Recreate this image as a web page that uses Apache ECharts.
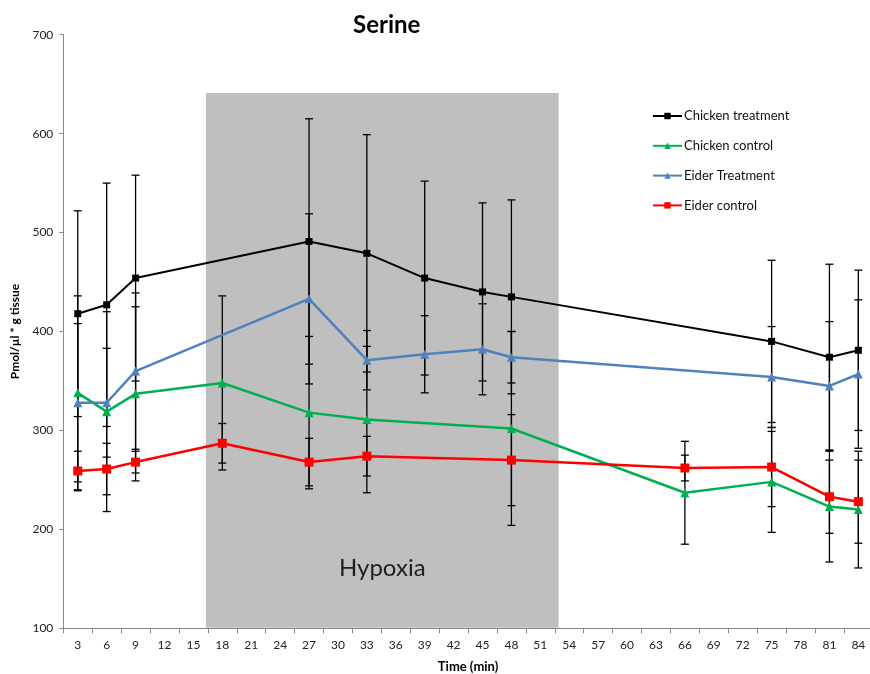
<!DOCTYPE html>
<html>
<head>
<meta charset="utf-8">
<script src="https://cdn.jsdelivr.net/npm/echarts@6/dist/echarts.min.js"></script>
<style>html,body{margin:0;padding:0;background:#fff;}#c{width:870px;height:674px;}</style>
</head>
<body>
<div id="c"></div>
<script>
// Tick labels of the category axis (minutes)
var tickLabels = ['3','6','9','12','15','18','21','24','27','30','33','36','39','42','45','48','51','54','57','60','63','66','69','72','75','78','81','84'];
// Measured time points (minutes)
var times = [3, 6, 9, 18, 27, 33, 39, 45, 48, 66, 75, 81, 84];
// Series means and error (±) values, aligned with times
var chickenTreatment   = [418, 427, 454, null, 491, 479, 454, 440, 435, null, 390, 374, 381];
var chickenTreatmentSD = [104, 123, 104, null, 124, 120,  98,  90,  98, null,  82,  94,  81];
var chickenControl     = [338, 319, 337, 348, 318, 311, null, null, 302, 237, 248, 223, 220];
var chickenControlSD   = [ 98, 101,  88,  88,  77,  74, null, null,  98,  52,  51,  56,  59];
var eiderTreatment     = [328, 328, 360, null, 433, 371, 377, 382, 374, null, 354, 345, 357];
var eiderTreatmentSD   = [ 80,  55,  79, null,  86,  30,  39,  46,  26, null,  51,  65,  75];
var eiderControl       = [259, 261, 268, 287, 268, 274, null, null, 270, 262, 263, 233, 228];
var eiderControlSD     = [ 20,  26,  11,  20,  24,  20, null, null,  46,  13,  40,  37,  42];
// Hypoxia period (minutes) and top of shaded box (axis units)
var hypoxiaRange = [16.3, 52.9];
var hypoxiaTop = [641];
var hypoxiaLabel = ['Hypoxia'];

var FONT = 'Lato, "Liberation Sans", sans-serif';

function pairs(vals) {
  var out = [];
  for (var i = 0; i < times.length; i++) {
    if (vals[i] !== null) out.push([String(times[i]), vals[i]]);
  }
  return out;
}
function errData(vals, sd) {
  var out = [];
  for (var i = 0; i < times.length; i++) {
    if (vals[i] !== null) out.push([String(times[i]), vals[i] - sd[i], vals[i] + sd[i]]);
  }
  return out;
}
function errRender(params, api) {
  var lo = api.coord([api.value(0), api.value(1)]);
  var hi = api.coord([api.value(0), api.value(2)]);
  var hw = 4;
  var st = {stroke: '#000', lineWidth: 1.3};
  return {
    type: 'group',
    children: [
      {type: 'line', shape: {x1: lo[0], y1: lo[1], x2: hi[0], y2: hi[1]}, style: st},
      {type: 'line', shape: {x1: lo[0] - hw, y1: lo[1], x2: lo[0] + hw, y2: lo[1]}, style: st},
      {type: 'line', shape: {x1: hi[0] - hw, y1: hi[1], x2: hi[0] + hw, y2: hi[1]}, style: st}
    ]
  };
}
function errSeries(vals, sd) {
  return {type: 'custom', renderItem: errRender, data: errData(vals, sd), z: 3,
    encode: {x: 0, y: [1, 2]}, silent: true, legendHoverLink: false};
}
function lineSeries(name, vals, color, symbol, size, width) {
  return {
    name: name, type: 'line', data: pairs(vals), connectNulls: true,
    symbol: symbol, symbolSize: size, showSymbol: true,
    itemStyle: {color: color}, lineStyle: {color: color, width: width},
    z: 5, animation: false
  };
}

var chart = echarts.init(document.getElementById('c'));
chart.setOption({
  animation: false,
  backgroundColor: '#fff',
  title: {
    text: 'Serine', left: 348, top: 8,
    textStyle: {fontFamily: FONT, fontWeight: 'bold', fontSize: 24, color: '#000'}
  },
  legend: {
    orient: 'vertical', left: 647, top: 104,
    itemWidth: 29, itemHeight: 8, itemGap: 15.8,
    data: ['Chicken treatment', 'Chicken control', 'Eider Treatment', 'Eider control'],
    textStyle: {fontFamily: FONT, fontSize: 13, color: '#111', lineHeight: 14, padding: [0, 0, 0, -3]}
  },
  grid: {left: 63.3, top: 34.7, width: 809.5, height: 593.6, outerBoundsMode: 'none', containLabel: false},
  xAxis: {
    type: 'category', data: tickLabels, boundaryGap: true,
    name: 'Time (min)', nameLocation: 'middle', nameGap: 32,
    nameTextStyle: {fontFamily: FONT, fontWeight: 'bold', fontSize: 13, color: '#000'},
    axisLine: {lineStyle: {color: '#868686', width: 1}},
    axisTick: {show: true, length: 5, lineStyle: {color: '#868686'}, interval: 0},
    axisLabel: {fontFamily: FONT, fontSize: 12, color: '#222', margin: 11, interval: 0},
    splitLine: {show: false}
  },
  yAxis: {
    type: 'value', min: 100, max: 700, interval: 100,
    name: 'Pmol/µl * g tissue', nameLocation: 'middle', nameGap: 42, nameRotate: 90,
    nameTextStyle: {fontFamily: FONT, fontWeight: 'bold', fontSize: 12, color: '#000'},
    axisLine: {show: true, lineStyle: {color: '#868686', width: 1}},
    axisTick: {show: true, length: 4, lineStyle: {color: '#868686'}},
    axisLabel: {fontFamily: FONT, fontSize: 12, color: '#222', margin: 10},
    splitLine: {show: false}
  },
  series: [
    {
      type: 'custom', silent: true, z: 1, clip: false,
      data: [[tickLabels[0], hypoxiaTop[0]]],
      renderItem: function (params, api) {
        var x0 = api.coord([tickLabels[0], 100])[0];
        var band = api.size([1, 0])[0];
        var xa = x0 + (hypoxiaRange[0] - 3) / 3 * band;
        var xb = x0 + (hypoxiaRange[1] - 3) / 3 * band;
        var yt = api.coord([tickLabels[0], hypoxiaTop[0]])[1];
        var yb = api.coord([tickLabels[0], 100])[1];
        return {
          type: 'group',
          children: [
            {type: 'rect', shape: {x: xa, y: yt, width: xb - xa, height: yb - yt - 0.5}, style: {fill: '#bfbfbf'}},
            {type: 'text', style: {text: hypoxiaLabel[0], x: (xa + xb) / 2, y: yb - 60, align: 'center', verticalAlign: 'middle',
              font: '24px ' + FONT, fill: '#1f1f1f'}}
          ]
        };
      }
    },
    errSeries(chickenTreatment, chickenTreatmentSD),
    errSeries(chickenControl, chickenControlSD),
    errSeries(eiderTreatment, eiderTreatmentSD),
    errSeries(eiderControl, eiderControlSD),
    lineSeries('Chicken treatment', chickenTreatment, '#000000', 'rect', 7, 2),
    lineSeries('Chicken control', chickenControl, '#00B050', 'triangle', 9, 2.5),
    lineSeries('Eider Treatment', eiderTreatment, '#4F81BD', 'triangle', 9, 2.5),
    lineSeries('Eider control', eiderControl, '#FF0000', 'rect', 9, 2.5)
  ]
});
</script>
</body>
</html>
